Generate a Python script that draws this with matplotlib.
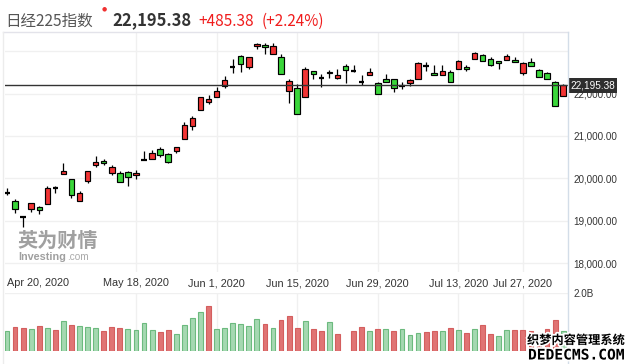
import matplotlib
matplotlib.use('Agg')
import matplotlib.pyplot as plt
from matplotlib import patheffects as pe
from matplotlib.lines import Line2D
from matplotlib.patches import Rectangle
import numpy as np

# ---------------- data ----------------
dates = ["Apr 20", "Apr 21", "Apr 22", "Apr 23", "Apr 24", "Apr 27", "Apr 28", "Apr 30",
         "May 1", "May 7", "May 8", "May 11", "May 12", "May 13", "May 14", "May 15",
         "May 18", "May 19", "May 20", "May 21", "May 22", "May 25", "May 26", "May 27",
         "May 28", "May 29", "Jun 1", "Jun 2", "Jun 3", "Jun 4", "Jun 5", "Jun 8", "Jun 9",
         "Jun 10", "Jun 11", "Jun 12", "Jun 15", "Jun 16", "Jun 17", "Jun 18", "Jun 19",
         "Jun 22", "Jun 23", "Jun 24", "Jun 25", "Jun 26", "Jun 29", "Jun 30", "Jul 1",
         "Jul 2", "Jul 3", "Jul 6", "Jul 7", "Jul 8", "Jul 9", "Jul 10", "Jul 13", "Jul 14",
         "Jul 15", "Jul 16", "Jul 17", "Jul 20", "Jul 21", "Jul 22", "Jul 27", "Jul 28",
         "Jul 29", "Jul 30", "Jul 31", "Aug 3"]

opens = [19670, 19467, 19100, 19288, 19319, 19390, 19772, 20097, 19979, 19460,
         19946, 20309, 20403, 20120, 20127, 20144, 20073, 20445, 20455, 20685,
         20568, 20640, 20922, 21228, 21606, 21794, 21913, 22179, 22640, 22887,
         22621, 23114, 23146, 22927, 22856, 22072, 22125, 21913, 22527, 22368,
         22505, 22363, 22652, 22540, 22280, 22433, 22243, 22339, 22339, 22177,
         22259, 22339, 22656, 22488, 22433, 22519, 22590, 22621, 22817, 22911,
         22817, 22762, 22786, 22786, 22495, 22747, 22558, 22488, 22266, 21936]
highs = [19767, 19514, 19110, 19427, 19349, 19821, 19821, 20371, 19979, 19703,
         20167, 20528, 20458, 20316, 20175, 20182, 20198, 20646, 20670, 20740,
         20606, 20741, 21330, 21472, 21913, 21960, 22156, 22415, 22824, 22919,
         22860, 23185, 23185, 23185, 22935, 22347, 22235, 22628, 22527, 22464,
         22566, 22574, 22707, 22676, 22439, 22604, 22266, 22464, 22339, 22266,
         22347, 22740, 22740, 22676, 22676, 22558, 22795, 22676, 22983, 22935,
         22856, 22762, 22927, 22856, 22747, 22841, 22574, 22512, 22297, 22235]
lows = [19608, 19190, 18860, 19208, 19168, 19390, 19649, 20097, 19545, 19460,
        19892, 20276, 20309, 20073, 19908, 19828, 19993, 20441, 20455, 20512,
        20356, 20590, 20922, 21141, 21606, 21747, 21913, 22140, 22479, 22518,
        22574, 23043, 22940, 22927, 22470, 21771, 21512, 21913, 22339, 22148,
        22363, 22339, 22257, 22504, 22203, 22433, 21986, 22281, 22045, 22101,
        22172, 22339, 22542, 22433, 22433, 22281, 22574, 22542, 22817, 22762,
        22652, 22590, 22786, 22739, 22448, 22652, 22385, 22339, 21700, 21936]
closes = [19663, 19280, 19095, 19413, 19250, 19767, 19767, 20175, 19600, 19649,
          20167, 20380, 20360, 20262, 19908, 20037, 20127, 20441, 20590, 20552,
          20388, 20741, 21252, 21417, 21913, 21865, 22061, 22321, 22636, 22692,
          22856, 23178, 23091, 23122, 22470, 22293, 21512, 22574, 22457, 22363,
          22478, 22433, 22558, 22535, 22274, 22504, 21986, 22281, 22125, 22172,
          22316, 22716, 22652, 22433, 22527, 22281, 22778, 22574, 22951, 22762,
          22683, 22715, 22887, 22739, 22716, 22652, 22385, 22339, 21700, 22195.38]

# volume in millions of shares (nan = no data)
volumes = [680, 815, 780, 750, 850, 780, 715, 1025, 885, 850,
           815, 780, 680, 815, 780, 750, 715, 955, 715, 645,
           715, 575, 885, 1125, 1335, 1540, 750, 780, 955, 920,
           850, 1090, 920, 780, 1060, 1195, 780, 1025, 750, 680,
           990, 575, np.nan, 680, 815, 680, 750, 750, 680, 750,
           540, 610, 645, 680, 680, 780, 715, 610, 750, 885,
           575, 505, 715, 715, 715, 680, 630, 750, 1060, 690]
vol_dir = ["G", "R", "R", "G", "R", "G", "R", "G", "R", "G",
           "G", "G", "R", "R", "R", "G", "G", "G", "G", "R",
           "R", "G", "G", "G", "G", "R", "G", "G", "G", "G",
           "G", "G", "R", "G", "R", "R", "R", "G", "R", "R",
           "G", "R", "G", "R", "R", "G", "R", "G", "R", "G",
           "G", "G", "R", "R", "G", "R", "G", "R", "G", "R",
           "R", "G", "G", "R", "R", "R", "R", "R", "R", "G"]

price_ticks = [18000, 19000, 20000, 21000, 22000]
grid_levels = [18000, 19000, 20000, 21000, 22000, 23000]
xtick_dates = ["Apr 20", "May 18", "Jun 1", "Jun 15", "Jun 29", "Jul 13", "Jul 27"]
xtick_labels = ["Apr 20, 2020", "May 18, 2020", "Jun 1, 2020", "Jun 15, 2020",
                "Jun 29, 2020", "Jul 13, 2020", "Jul 27, 2020"]
last_price = 22195.38
title_name = "日经225指数"
title_price = "22,195.38"
title_chg = "+485.38"
title_pct = "(+2.24%)"

# ---------------- figure ----------------
W, H = 636, 364
fig = plt.figure(figsize=(W / 100, H / 100), dpi=100)
fig.patch.set_facecolor('white')


def fx(x):
    return x / W


def fy(y):
    return 1 - y / H


ax = fig.add_axes([fx(5), fy(272), fx(568) - fx(5), fy(32) - fy(272)])
axv = fig.add_axes([fx(5), fy(351), fx(568) - fx(5), fy(293) - fy(351)])

x = np.arange(len(dates))
o = np.array(opens, float)
h = np.array(highs, float)
l = np.array(lows, float)
c = np.array(closes, float)

RED = '#f23434'
GREEN = '#3ad63a'
GRID = '#f0f0f0'

xlim = (-0.25, 69.6)
vpos = [dates.index(d) for d in xtick_dates[1:]]

for a in (ax, axv):
    a.set_xlim(*xlim)
    for v in vpos:
        a.axvline(v, color=GRID, lw=1, zorder=0)
    for s in ('left', 'bottom', 'top', 'right'):
        a.spines[s].set_visible(False)
    a.set_facecolor('none')

ax.set_ylim(17792, 23453)
for g in grid_levels:
    ax.axhline(g, color=GRID, lw=1, zorder=0)

# wicks
ax.vlines(x, l, h, color='black', lw=0.9, zorder=2)
body_lo = np.minimum(o, c)
body_h = np.abs(c - o)
is_doji = body_h < 12
colors = np.where(c > o, RED, GREEN)
nd = ~is_doji
ax.bar(x[nd], body_h[nd], bottom=body_lo[nd], width=0.68, color=colors[nd],
       edgecolor='black', linewidth=0.85, zorder=3)
ax.hlines(c[is_doji], x[is_doji] - 0.34, x[is_doji] + 0.34, color='black',
          lw=1.6, zorder=3)

# last price line
ax.axhline(last_price, color='#333333', lw=1.0, zorder=4)

ax.yaxis.tick_right()
ax.set_yticks(price_ticks)
ax.set_yticklabels([f"{t:,.2f}" for t in price_ticks], fontfamily='Liberation Sans',
                   fontsize=7.1, color='#333333')
ax.tick_params(axis='y', length=0, pad=3.6)

ax.set_xticks([dates.index(d) for d in xtick_dates])
ax.set_xticklabels(xtick_labels, fontfamily='Liberation Sans', fontsize=7.8,
                   color='#333333')
ax.tick_params(axis='x', length=0, pad=4.5)
ax.get_xticklabels()[0].set_horizontalalignment('left')

# volume
vol = np.array(volumes, float)
vfill = ['#a5d8b1' if d == 'G' else '#e07474' for d in vol_dir]
vedge = ['#6cba7e' if d == 'G' else '#d45e5e' for d in vol_dir]
axv.bar(x, vol, width=0.6, color=vfill, edgecolor=vedge, linewidth=0.8, zorder=2)
axv.set_ylim(0, 2000)
axv.axhline(2000, color=GRID, lw=1, zorder=0)
axv.yaxis.tick_right()
axv.set_yticks([2000])
axv.set_yticklabels(['2.0B'], fontfamily='Liberation Sans', fontsize=7.1,
                    color='#333333')
axv.tick_params(axis='y', length=0, pad=3.6)
axv.set_xticks([])

# frame lines
fig.add_artist(Line2D([fx(3), fx(568)], [fy(31.5), fy(31.5)], color='#e3e3ea', lw=1))
fig.add_artist(Line2D([fx(568), fx(568)], [fy(31.5), fy(364)], color='#d3dde8', lw=1))
fig.add_artist(Line2D([fx(3.5), fx(3.5)], [fy(31.5), fy(364)], color='#ececec', lw=1))

# last price box
fig.add_artist(Rectangle((fx(568), fy(93)), fx(617) - fx(568), fy(78) - fy(93),
                         facecolor='#2e2e2e', edgecolor='none'))
fig.text(fx(592.5), fy(85.5), title_price, color='white', fontsize=7.2,
         fontfamily='Liberation Sans', ha='center', va='center')

# title
cjk = ['Noto Sans CJK SC', 'DejaVu Sans']
fig.text(fx(5), fy(25.5), title_name, fontfamily=cjk, fontsize=11.2, color='#555555',
         va='baseline', ha='left')
fig.text(fx(104.5), fy(8.5), '●', fontfamily='DejaVu Sans', fontsize=4.2, color='#f03030',
         ha='center', va='center')
fig.text(fx(112), fy(25.5), title_price, fontfamily=cjk, fontsize=11.9,
         fontweight='bold', color='#333333', va='baseline', ha='left')
fig.text(fx(198), fy(25.5), title_chg, fontfamily=cjk, fontsize=11.0, color='#f01d1d',
         va='baseline', ha='left')
fig.text(fx(262), fy(25.5), title_pct, fontfamily=cjk, fontsize=11.0, color='#f01d1d',
         va='baseline', ha='left')

# investing watermark
fig.text(fx(17), fy(246.5), '英为财情', fontfamily=cjk, fontsize=14.5, fontweight='bold',
         color='#8f8f8f', alpha=0.85, va='baseline', ha='left')
fig.text(fx(18), fy(259.5), 'Investing', fontfamily='Liberation Sans', fontsize=7.8,
         fontweight='bold', color='#8f8f8f', alpha=0.85, va='baseline', ha='left')
fig.text(fx(67), fy(259.5), '.com', fontfamily='Liberation Sans', fontsize=7.2,
         color='#9a9a9a', alpha=0.85, va='baseline', ha='left')

# dedecms watermark
stroke = [pe.withStroke(linewidth=2.5, foreground='white')]
fig.text(fx(527), fy(344), '织梦内容管理系统', fontfamily=cjk, fontsize=8.8,
         fontweight='bold', color='black', va='baseline', ha='left', path_effects=stroke)
fig.text(fx(528), fy(359.5), 'DEDECMS.COM', fontfamily='DejaVu Sans Mono', fontsize=10.5,
         fontweight='bold', color='black', va='baseline', ha='left', path_effects=stroke)

fig.savefig('out.png', dpi=100, facecolor='white')
